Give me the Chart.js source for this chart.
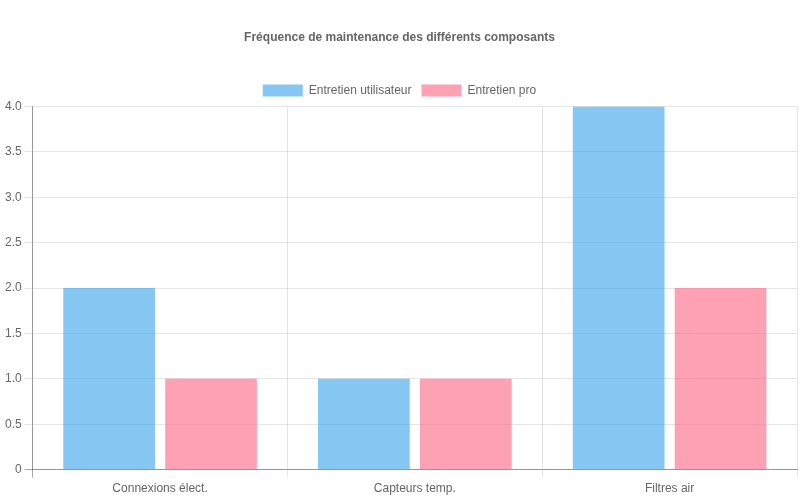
<!DOCTYPE html>
<html>
<head>
<meta charset="utf-8">
<script src="https://cdn.jsdelivr.net/npm/chart.js@4"></script>
<style>
  html, body { margin: 0; padding: 0; background: #fff; }
  #wrap { width: 800px; height: 500px; }
</style>
</head>
<body>
<div id="wrap"><canvas id="barChart" width="800" height="500"></canvas></div>
<script>
// Composants et fréquences
const categories = ['Connexions élect.', 'Capteurs temp.', 'Filtres air'];
const userMaintenance = [2, 1, 4];
const proMaintenance = [1, 1, 2];

Chart.defaults.font.family = '"Liberation Sans", Arial, sans-serif';
Chart.defaults.color = '#666';

const axisColor = 'rgba(0, 0, 0, 0.35)';
const gridColor = 'rgba(0, 0, 0, 0.1)';
// only the tick on the axis corner is darker
const tickColor = (c) => c.index === 0 ? axisColor : gridColor;

const ctx = document.getElementById('barChart');
new Chart(ctx, {
  type: 'bar',
  data: {
    labels: categories,
    datasets: [{
      label: 'Entretien utilisateur',
      data: userMaintenance,
      backgroundColor: 'rgba(54, 162, 235, 0.6)'
    }, {
      label: 'Entretien pro',
      data: proMaintenance,
      backgroundColor: 'rgba(255, 99, 132, 0.6)'
    }]
  },
  options: {
    responsive: false,
    animation: false,
    layout: { padding: { left: 2, right: 3, bottom: 0 } },
    plugins: {
      title: {
        display: true,
        text: 'Fréquence de maintenance des différents composants',
        font: { size: 12, weight: 'bold' },
        padding: { top: 30, bottom: 30 }
      },
      legend: { position: 'top' }
    },
    scales: {
      x: {
        border: { color: axisColor },
        grid: { color: gridColor, tickColor: tickColor },
        ticks: { padding: 4 }
      },
      y: {
        beginAtZero: true,
        border: { color: axisColor },
        grid: { color: gridColor, tickColor: tickColor }
      }
    }
  }
});
</script>
</body>
</html>
